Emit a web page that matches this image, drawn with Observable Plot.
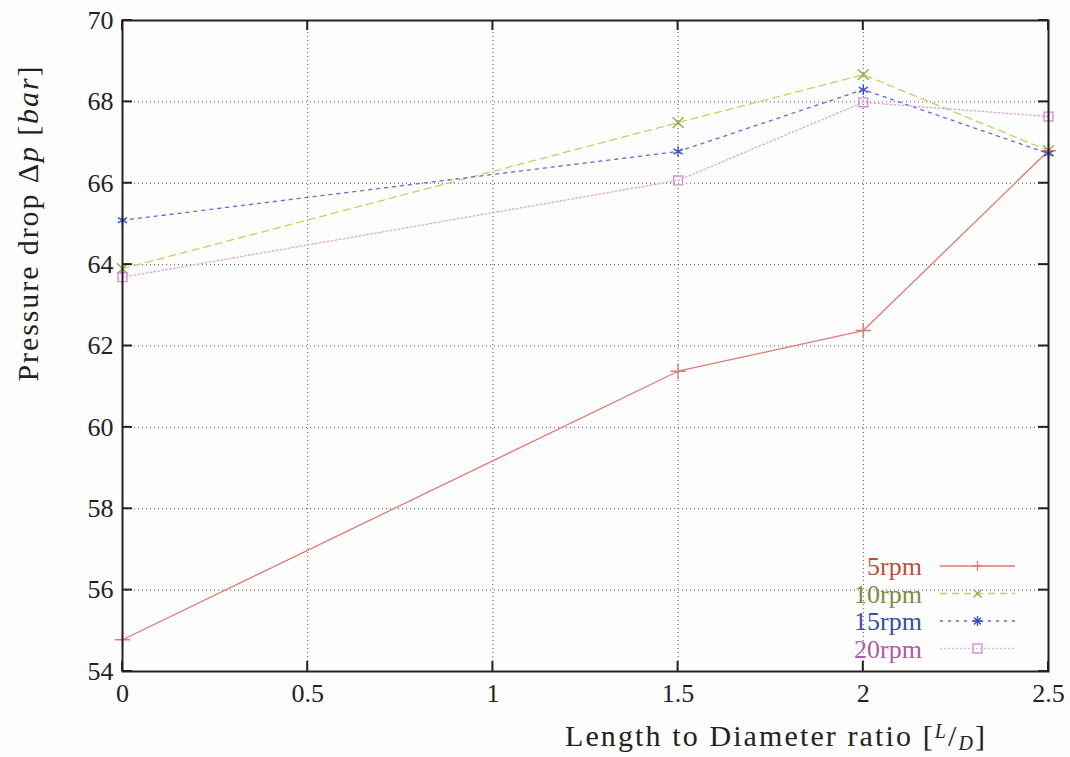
<!DOCTYPE html>
<html>
<head>
<meta charset="utf-8">
<script src="https://cdn.jsdelivr.net/npm/d3@7"></script>
<script src="https://cdn.jsdelivr.net/npm/@observablehq/plot@0.6"></script>
<style>
  html, body { margin: 0; padding: 0; background: #fdfdfd; }
  #chart svg { display: block; background: #fdfdfd; }
  #chart svg, #chart svg text, #chart svg tspan, #chart svg g { font-family: "Liberation Serif", "Times New Roman", Times, serif !important; }
</style>
</head>
<body>
<div id="chart"></div>
<script>
// ---- data ----
const ldRatio = [0, 1.5, 2, 2.5];
const rpm5  = [54.78, 61.38, 62.38, 66.80];
const rpm10 = [63.90, 67.49, 68.67, 66.80];
const rpm15 = [65.09, 66.78, 68.30, 66.73];
const rpm20 = [63.69, 66.07, 67.99, 67.64];
const seriesNames = ["5rpm", "10rpm", "15rpm", "20rpm"];
const xTicks = [0, 0.5, 1, 1.5, 2, 2.5];
const xTickLabels = ["0", "0.5", "1", "1.5", "2", "2.5"];
const yTicks = [54, 56, 58, 60, 62, 64, 66, 68, 70];

// ---- styles ----
const lineColors = ["#e07a72", "#c4d060", "#5a6ad8", "#e2a2da"];
const markColors = ["#e07a72", "#9aa84a", "#3a50c8", "#d890d0"];
const textColors = ["#b8503c", "#7f8a3c", "#3c4ea0", "#b05aa8"];
const dashes = [null, "7,5", "3,5", "1.5,2.5"];
const symbols = ["plus", "times", "asterisk", "square"];
const serif = "Liberation Serif, Times New Roman, serif";

const allSeries = [rpm5, rpm10, rpm15, rpm20];
const rows = [];
allSeries.forEach((vals, i) => vals.forEach((v, j) => rows.push({series: seriesNames[i], idx: i, x: ldRatio[j], y: v})));

const marks = [
  Plot.gridX(xTicks, {stroke: "#555", strokeOpacity: 1, strokeWidth: 1, strokeDasharray: "1,3"}),
  Plot.gridY(yTicks, {stroke: "#555", strokeOpacity: 1, strokeWidth: 1, strokeDasharray: "1,3"}),
];
seriesNames.forEach((name, i) => {
  const d = rows.filter(r => r.idx === i);
  marks.push(Plot.line(d, {x: "x", y: "y", stroke: lineColors[i], strokeWidth: 1.3, strokeDasharray: dashes[i]}));
  marks.push(Plot.dot(d, {x: "x", y: "y", symbol: () => symbols[i], stroke: markColors[i], fill: "none", r: 5, strokeWidth: 1.4}));
});
marks.push(Plot.axisX(xTicks, {tickSize: 0, tickPadding: 12, tickFormat: (d, k) => xTickLabels[k], fontSize: 26, fill: "#222", label: null}));
marks.push(Plot.axisY(yTicks, {tickSize: 0, tickPadding: 9, fontSize: 26, fill: "#222", label: null}));
marks.push(Plot.frame({stroke: "#222", strokeWidth: 2}));

const plot = Plot.plot({
  width: 1070,
  height: 757,
  marginLeft: 122,
  marginRight: 22,
  marginTop: 20,
  marginBottom: 86,
  style: {background: "#fdfdfd", fontFamily: serif},
  x: {domain: [0, 2.5], type: "linear"},
  y: {domain: [54, 70], type: "linear"},
  marks
});
document.getElementById("chart").appendChild(plot);

// ---- inward ticks, axis labels, legend (positions via plot scales) ----
const sx = plot.scale("x"), sy = plot.scale("y");
const X = v => sx.apply(v), Y = v => sy.apply(v);
const svg = d3.select(plot);
const g = svg.append("g").attr("stroke", "#222").attr("stroke-width", 2);
const x0 = X(0), x1 = X(2.5), y0 = Y(54), y1 = Y(70);
const tl = 10;
yTicks.forEach(t => {
  g.append("line").attr("x1", x0).attr("x2", x0 + tl).attr("y1", Y(t)).attr("y2", Y(t));
  g.append("line").attr("x1", x1).attr("x2", x1 - tl).attr("y1", Y(t)).attr("y2", Y(t));
});
xTicks.forEach(t => {
  g.append("line").attr("y1", y0).attr("y2", y0 - tl).attr("x1", X(t)).attr("x2", X(t));
  g.append("line").attr("y1", y1).attr("y2", y1 + tl).attr("x1", X(t)).attr("x2", X(t));
});

// x axis label
const xl = svg.append("text").attr("x", 775).attr("y", 746).attr("text-anchor", "middle")
  .attr("font-size", 30).attr("fill", "#222")
  .attr("textLength", 420).attr("lengthAdjust", "spacing");
xl.append("tspan").text("Length to Diameter ratio [");
xl.append("tspan").attr("font-style", "italic").attr("font-size", 20).attr("dy", -8).text("L");
xl.append("tspan").attr("dy", 8).text("/");
xl.append("tspan").attr("font-style", "italic").attr("font-size", 20).attr("dy", 4).text("D");
xl.append("tspan").attr("dy", -4).text("]");

// y axis label
const yl = svg.append("text").attr("transform", `translate(38,224) rotate(-90)`).attr("text-anchor", "middle")
  .attr("font-size", 30).attr("fill", "#222")
  .attr("textLength", 315).attr("lengthAdjust", "spacing");
yl.append("tspan").text("Pressure drop Δ");
yl.append("tspan").attr("font-style", "italic").text("p");
yl.append("tspan").text(" [");
yl.append("tspan").attr("font-style", "italic").text("bar");
yl.append("tspan").text("]");

// legend
const lg = svg.append("g");
const legTextX = 922, legLineX1 = 940, legLineX2 = 1015, legY0 = 566, legDy = 27.5;
const symPaths = {
  plus: "M-5,0H5M0,-5V5",
  times: "M-4,-4L4,4M-4,4L4,-4",
  asterisk: "M-5,0H5M0,-5V5M-3.5,-3.5L3.5,3.5M-3.5,3.5L3.5,-3.5",
  square: "M-4.5,-4.5H4.5V4.5H-4.5Z"
};
seriesNames.forEach((name, i) => {
  const yy = legY0 + i * legDy;
  lg.append("text").attr("x", legTextX).attr("y", yy).attr("dy", "0.35em").attr("text-anchor", "end")
    .attr("font-size", 26).attr("fill", textColors[i]).text(name);
  lg.append("line").attr("x1", legLineX1).attr("x2", legLineX2).attr("y1", yy).attr("y2", yy)
    .attr("stroke", lineColors[i]).attr("stroke-width", 1.3).attr("stroke-dasharray", dashes[i]);
  lg.append("path").attr("d", symPaths[symbols[i]]).attr("transform", `translate(${(legLineX1 + legLineX2) / 2},${yy})`)
    .attr("stroke", markColors[i]).attr("stroke-width", 1.4).attr("fill", "none");
});
</script>
</body>
</html>
